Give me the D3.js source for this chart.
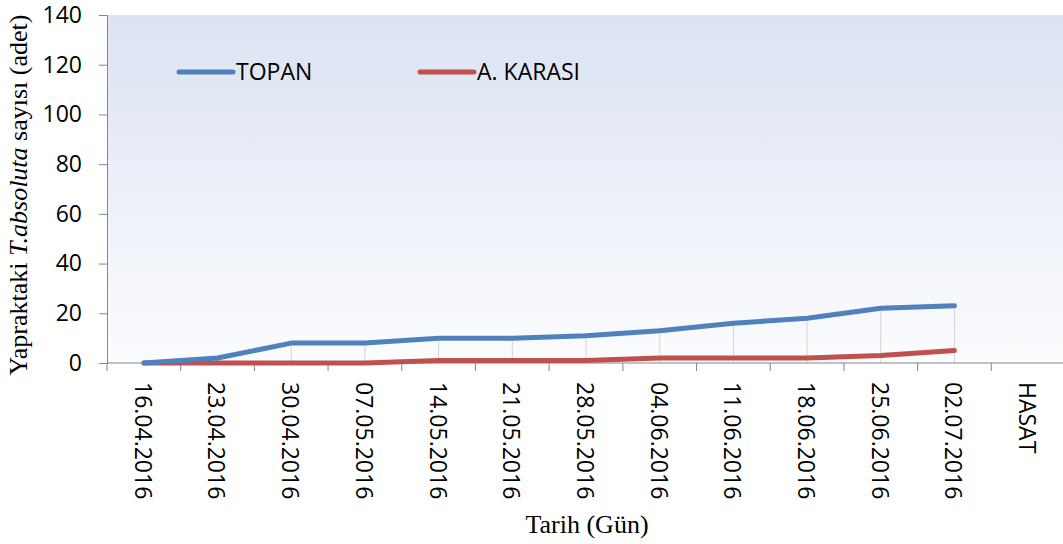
<!DOCTYPE html>
<meta charset="utf-8">
<style>
body { margin: 0; background: #fff; }
.tick text { font-family: "Open Sans", "Noto Sans", sans-serif; font-size: 23px; fill: #000; }
</style>
<svg width="1063" height="544"></svg>
<script src="https://d3js.org/d3.v7.min.js"></script>
<script>
"use strict";

// data
var dates = ["16.04.2016","23.04.2016","30.04.2016","07.05.2016","14.05.2016","21.05.2016",
  "28.05.2016","04.06.2016","11.06.2016","18.06.2016","25.06.2016","02.07.2016","HASAT"];
var topan = [0, 2, 8, 8, 10, 10, 11, 13, 16, 18, 22, 23];
var karasi = [0, 0, 0, 0, 1, 1, 1, 2, 2, 2, 3, 5];
var yTicks = [0, 20, 40, 60, 80, 100, 120, 140];

var svg = d3.select("svg");
var mLeft = 107, mTop = 15, mRight = 1065, mBottom = 363;

var x = d3.scaleBand().domain(dates).range([mLeft, mRight]);
var y = d3.scaleLinear().domain([0, 140]).range([mBottom, mTop]);

// background gradient
var grad = svg.append("defs").append("linearGradient")
  .attr("id", "bg").attr("x1", 0).attr("y1", 0).attr("x2", 0).attr("y2", 1);
grad.append("stop").attr("offset", "0%").attr("stop-color", "#dbe3f2");
grad.append("stop").attr("offset", "100%").attr("stop-color", "#fbfcfe");

svg.append("rect")
  .attr("x", mLeft).attr("y", mTop)
  .attr("width", mRight - mLeft).attr("height", mBottom - mTop)
  .attr("fill", "url(#bg)");

function cx(i) { return x(dates[i]) + x.bandwidth() / 2; }

// drop lines
svg.append("g").selectAll("line")
  .data(topan)
  .enter().append("line")
    .attr("x1", function(d, i) { return cx(i); })
    .attr("x2", function(d, i) { return cx(i); })
    .attr("y1", function(d) { return y(d); })
    .attr("y2", y(0))
    .attr("stroke", "#d4d4d4")
    .attr("stroke-width", 1);

// axes
var yAxis = svg.append("g")
  .attr("transform", "translate(" + mLeft + ",0)")
  .call(d3.axisLeft(y).tickValues(yTicks).tickSize(8).tickPadding(17));
yAxis.select(".domain").attr("stroke", "#868686");
yAxis.selectAll(".tick line").attr("stroke", "#868686");

var bounds = d3.range(dates.length + 1).map(function(i) { return mLeft + i * x.step(); });
var xAxis = svg.append("g");
xAxis.append("line")
  .attr("x1", mLeft).attr("x2", mRight).attr("y1", mBottom).attr("y2", mBottom)
  .attr("stroke", "#868686");
xAxis.selectAll("line.tk")
  .data(bounds)
  .enter().append("line")
    .attr("class", "tk")
    .attr("x1", function(d) { return d; }).attr("x2", function(d) { return d; })
    .attr("y1", mBottom).attr("y2", mBottom + 8)
    .attr("stroke", "#868686");
xAxis.selectAll("text")
  .data(dates)
  .enter().append("text")
    .attr("transform", function(d) { return "translate(" + (x(d) + x.bandwidth() / 2 - 1) + "," + (mBottom + 19) + ") rotate(90)"; })
    .attr("dy", "0.35em")
    .attr("font-family", "Open Sans, Noto Sans, sans-serif")
    .attr("font-size", 23)
    .text(function(d) { return d; });

// lines
var line = d3.line()
  .x(function(d, i) { return cx(i); })
  .y(function(d) { return y(d); });

svg.append("path").datum(karasi)
  .attr("d", line).attr("fill", "none")
  .attr("stroke", "#c0504d").attr("stroke-width", 5).attr("stroke-linecap", "round").attr("stroke-linejoin", "round");
svg.append("path").datum(topan)
  .attr("d", line).attr("fill", "none")
  .attr("stroke", "#4f81bd").attr("stroke-width", 5).attr("stroke-linecap", "round").attr("stroke-linejoin", "round");

// legend
var legend = [{name: "TOPAN", color: "#4f81bd", x: 179}, {name: "A. KARASI", color: "#c0504d", x: 420}];
var lg = svg.append("g").selectAll("g").data(legend).enter().append("g")
  .attr("transform", function(d) { return "translate(" + d.x + ",72)"; });
lg.append("line").attr("x1", 0).attr("x2", 54)
  .attr("stroke", function(d) { return d.color; })
  .attr("stroke-width", 5).attr("stroke-linecap", "round");
lg.append("text").attr("x", 57).attr("dy", "0.35em")
  .attr("font-family", "Open Sans, Noto Sans, sans-serif").attr("font-size", 23)
  .text(function(d) { return d.name; });

// titles
var yt = svg.append("text")
  .attr("transform", "translate(27,195) rotate(-90)")
  .attr("text-anchor", "middle")
  .attr("font-family", "Liberation Serif, Times New Roman, serif")
  .attr("font-size", 26);
yt.append("tspan").text("Yapraktaki ");
yt.append("tspan").attr("font-style", "italic").text("T.absoluta");
yt.append("tspan").text(" sayısı (adet)");

svg.append("text")
  .attr("x", 587).attr("y", 533)
  .attr("text-anchor", "middle")
  .attr("font-family", "Liberation Serif, Times New Roman, serif")
  .attr("font-size", 26)
  .text("Tarih (Gün)");
</script>
